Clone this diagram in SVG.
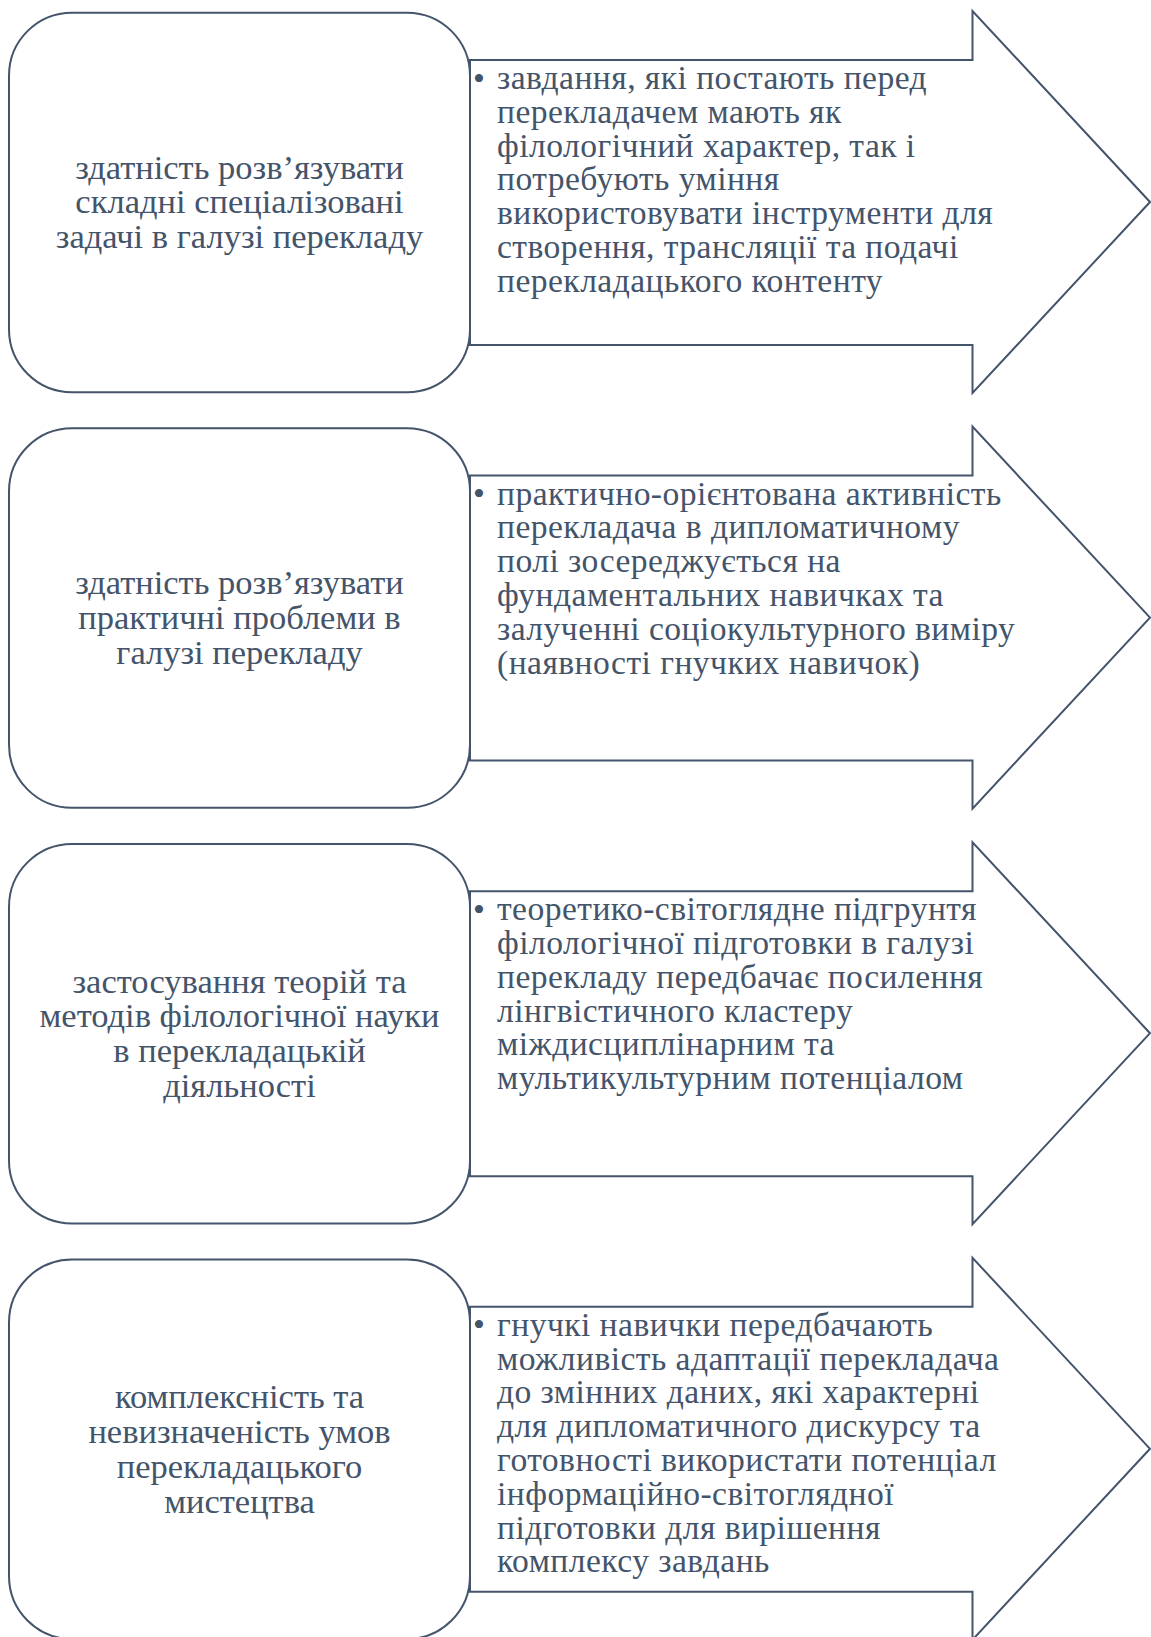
<svg xmlns="http://www.w3.org/2000/svg" width="1151" height="1637" viewBox="0 0 1151 1637">
<style>
.box{fill:#fff;stroke:#44546A;stroke-width:2}
.arr{fill:#fff;stroke:#44546A;stroke-width:2;stroke-linejoin:miter}
.lt{font-family:"Liberation Serif","Times New Roman",serif;font-size:34.5px;fill:#44546A;text-anchor:middle}
.rt{font-family:"Liberation Serif","Times New Roman",serif;font-size:33.6px;letter-spacing:0.45px;fill:#44546A}
.bl{font-family:"Liberation Serif","Times New Roman",serif;font-size:34px;fill:#44546A;text-anchor:middle}
</style>
<defs>
<rect id="boxshape" x="9" y="12.7" width="461" height="379.5" rx="63" ry="63"/>
<path id="arrshape" d="M470,60 L972.5,60 L972.5,11 L1150,202 L972.5,393 L972.5,345 L470,345 Z"/>
</defs>
<rect width="1151" height="1637" fill="#fff"/>
<g id="connectors"></g>

<g id="row1">
<g id="box1"><use href="#boxshape" class="box"/>
<text class="lt" x="239.5" y="178.5">здатність розв’язувати</text>
<text class="lt" x="239.5" y="213.3">складні спеціалізовані</text>
<text class="lt" x="239.5" y="248.1">задачі в галузі перекладу</text></g>
<g id="arrow1"><use href="#arrshape" class="arr"/>
<text class="bl" x="479" y="89.5">•</text>
<text class="rt" x="497" y="89">завдання, які постають перед</text>
<text class="rt" x="497" y="122.8">перекладачем мають як</text>
<text class="rt" x="497" y="156.6">філологічний характер, так і</text>
<text class="rt" x="497" y="190.4">потребують уміння</text>
<text class="rt" x="497" y="224.2">використовувати інструменти для</text>
<text class="rt" x="497" y="258">створення, трансляції та подачі</text>
<text class="rt" x="497" y="291.8">перекладацького контенту</text></g>
</g>

<g id="row2" transform="translate(0,415.6)">
<g id="box2"><use href="#boxshape" class="box"/>
<text class="lt" x="239.5" y="178.5">здатність розв’язувати</text>
<text class="lt" x="239.5" y="213.3">практичні проблеми в</text>
<text class="lt" x="239.5" y="248.1">галузі перекладу</text></g>
<g id="arrow2"><use href="#arrshape" class="arr"/>
<text class="bl" x="479" y="89.5">•</text>
<text class="rt" x="497" y="89">практично-орієнтована активність</text>
<text class="rt" x="497" y="122.8">перекладача в дипломатичному</text>
<text class="rt" x="497" y="156.6">полі зосереджується на</text>
<text class="rt" x="497" y="190.4">фундаментальних навичках та</text>
<text class="rt" x="497" y="224.2">залученні соціокультурного виміру</text>
<text class="rt" x="497" y="258">(наявності гнучких навичок)</text></g>
</g>

<g id="row3" transform="translate(0,831.2)">
<g id="box3"><use href="#boxshape" class="box"/>
<text class="lt" x="239.5" y="161.5">застосування теорій та</text>
<text class="lt" x="239.5" y="196.3">методів філологічної науки</text>
<text class="lt" x="239.5" y="231.1">в перекладацькій</text>
<text class="lt" x="239.5" y="265.9">діяльності</text></g>
<g id="arrow3"><use href="#arrshape" class="arr"/>
<text class="bl" x="479" y="89.5">•</text>
<text class="rt" x="497" y="89">теоретико-світоглядне підгрунтя</text>
<text class="rt" x="497" y="122.8">філологічної підготовки в галузі</text>
<text class="rt" x="497" y="156.6">перекладу передбачає посилення</text>
<text class="rt" x="497" y="190.4">лінгвістичного кластеру</text>
<text class="rt" x="497" y="224.2">міждисциплінарним та</text>
<text class="rt" x="497" y="258">мультикультурним потенціалом</text></g>
</g>

<g id="row4" transform="translate(0,1246.8)">
<g id="box4"><use href="#boxshape" class="box"/>
<text class="lt" x="239.5" y="161.5">комплексність та</text>
<text class="lt" x="239.5" y="196.3">невизначеність умов</text>
<text class="lt" x="239.5" y="231.1">перекладацького</text>
<text class="lt" x="239.5" y="265.9">мистецтва</text></g>
<g id="arrow4"><use href="#arrshape" class="arr"/>
<text class="bl" x="479" y="89.5">•</text>
<text class="rt" x="497" y="89">гнучкі навички передбачають</text>
<text class="rt" x="497" y="122.8">можливість адаптації перекладача</text>
<text class="rt" x="497" y="156.6">до змінних даних, які характерні</text>
<text class="rt" x="497" y="190.4">для дипломатичного дискурсу та</text>
<text class="rt" x="497" y="224.2">готовності використати потенціал</text>
<text class="rt" x="497" y="258">інформаційно-світоглядної</text>
<text class="rt" x="497" y="291.8">підготовки для вирішення</text>
<text class="rt" x="497" y="325.6">комплексу завдань</text></g>
</g>
</svg>
